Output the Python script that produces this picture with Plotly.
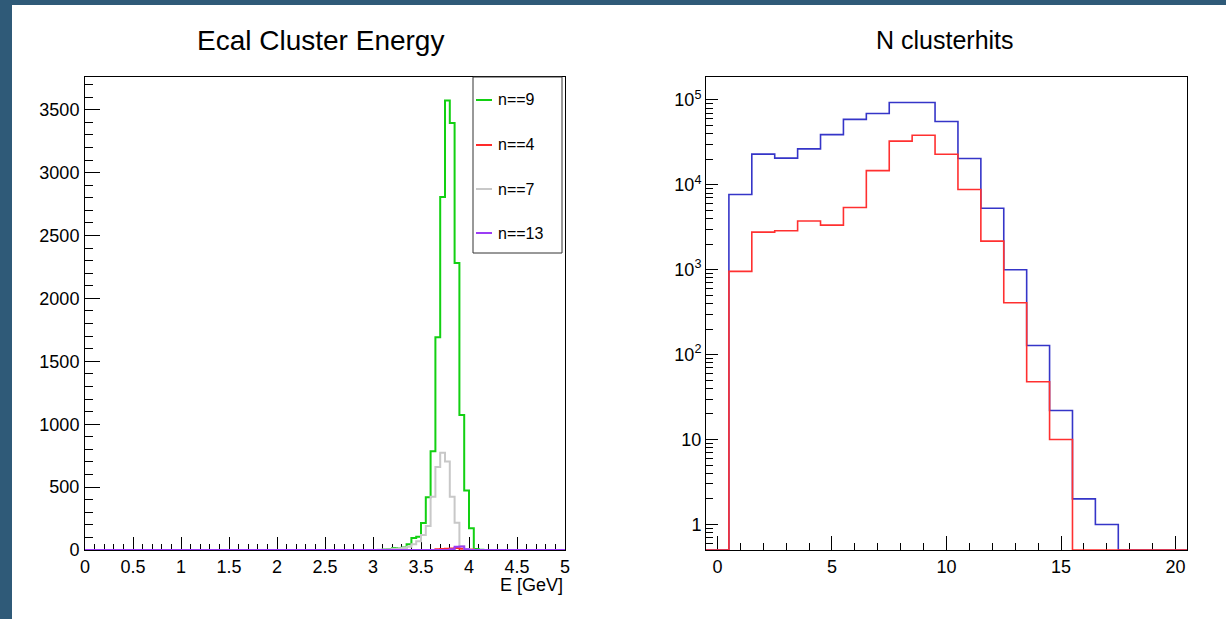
import plotly.graph_objects as go
import math

W, H = 1226, 619

# ---------------- Left panel: Ecal Cluster Energy (100 bins, 0..5 GeV) ----------------
e_nbins = 100
e_min, e_max = 0.0, 5.0

# non-zero bin contents, starting at the given bin lower edge
green_start = 3.10  # n==9
green_vals = [3, 8, 15, 12, 20, 45, 95, 106, 215, 420, 785, 1692, 2806, 3574, 3395,
              2281, 1074, 472, 172, 8, 2]
red_start = 3.65    # n==4
red_vals = [5, 8, 10, 12, 15, 10, 8, 4]
gray_start = 3.05   # n==7
gray_vals = [2, 4, 6, 10, 12, 16, 25, 45, 70, 119, 191, 424, 660, 774, 703, 424, 217,
             30, 8, 2]
purple_start = 3.80  # n==13
purple_vals = [5, 25, 28, 6]

left_series = [
    ("n==9", green_start, green_vals, "#12d012"),
    ("n==4", red_start, red_vals, "#ff2a2a"),
    ("n==7", gray_start, gray_vals, "#c8c8c8"),
    ("n==13", purple_start, purple_vals, "#9b3cf5"),
]

e_xtick_vals = [0, 0.5, 1, 1.5, 2, 2.5, 3, 3.5, 4, 4.5, 5]
e_xtick_text = ["0", "0.5", "1", "1.5", "2", "2.5", "3", "3.5", "4", "4.5", "5"]

# ---------------- Right panel: N clusterhits (21 bins, -0.5..20.5) ----------------
n_bins = 21
n_min, n_max = -0.5, 20.5
blue_vals = [0, 7700, 23000, 20600, 26500, 39000, 59000, 69000, 93000, 93000, 55600,
             20400, 5300, 1000, 128, 22, 2, 1, 0, 0, 0]
red2_vals = [0, 955, 2770, 2880, 3740, 3350, 5400, 14700, 32700, 38400, 22900, 8800,
             2170, 408, 48, 10, 0, 0, 0, 0, 0]
n_xtick_vals = [0, 5, 10, 15, 20]
n_ytick_vals = [1, 10, 100, 1000, 10000, 100000]
n_ytick_text = ["1", "10", "10<sup>2</sup>", "10<sup>3</sup>", "10<sup>4</sup>", "10<sup>5</sup>"]
log_ymin, log_ymax = 0.5, 1.86e5


def full_bins(start, vals, nb, lo, hi):
    width = (hi - lo) / nb
    out = [0.0] * nb
    i0 = int(round((start - lo) / width))
    for k, v in enumerate(vals):
        out[i0 + k] = v
    return out


def step_xy(vals, nb, lo, hi, floor=None):
    width = (hi - lo) / nb
    edges = [lo + i * width for i in range(nb + 1)]
    ys = [(floor if (floor is not None and v <= 0) else v) for v in vals]
    return edges, ys + [ys[-1]]


fig = go.Figure()

for name, start, vals, color in left_series:
    full = full_bins(start, vals, e_nbins, e_min, e_max)
    xs, ys = step_xy(full, e_nbins, e_min, e_max)
    fig.add_trace(go.Scatter(x=xs, y=ys, mode="lines", line=dict(shape="hv", color=color, width=2),
                             name=name, showlegend=False, xaxis="x", yaxis="y",
                             cliponaxis=False))

for name, vals, color in [("all", blue_vals, "#3535c8"), ("sel", red2_vals, "#ff3030")]:
    xs, ys = step_xy(vals, n_bins, n_min, n_max, floor=log_ymin)
    fig.add_trace(go.Scatter(x=xs, y=ys, mode="lines", line=dict(shape="hv", color=color, width=1.6),
                             name=name, showlegend=False, xaxis="x2", yaxis="y2",
                             cliponaxis=False))

font_family = "Liberation Sans, Arial, sans-serif"
tickfont = dict(family=font_family, size=18, color="black")

ydom = [1 - 550 / H, 1 - 77 / H]

common = dict(showline=True, linecolor="black", linewidth=1, mirror=True, showgrid=False,
              zeroline=False, ticks="inside", tickcolor="black", tickwidth=1,
              tickfont=tickfont, automargin=False, layer="below traces")

minor_log = [k * 10 ** d for d in range(-1, 6) for k in range(2, 10)
             if log_ymin < k * 10 ** d < log_ymax]

# legend drawn as a boxed key inside the left frame
leg_x0, leg_x1, leg_y0, leg_y1 = 473, 562, 77, 253
leg_rows = [100, 145, 189, 233]
shapes = [
    dict(type="rect", xref="paper", yref="paper", x0=12 / W, x1=1, y0=0, y1=1 - 5 / H,
         fillcolor="white", line=dict(width=0), layer="below"),
    dict(type="rect", xref="paper", yref="paper", x0=leg_x0 / W, x1=leg_x1 / W,
         y0=1 - leg_y1 / H, y1=1 - leg_y0 / H, fillcolor="white",
         line=dict(color="#333333", width=1), layer="above"),
]
annotations = [
    dict(text="Ecal Cluster Energy", xref="paper", yref="paper", x=320 / W, y=1 - 40 / H,
         xanchor="center", yanchor="middle", showarrow=False,
         font=dict(family=font_family, size=28, color="black")),
    dict(text="N clusterhits", xref="paper", yref="paper", x=945 / W, y=1 - 40 / H,
         xanchor="center", yanchor="middle", showarrow=False,
         font=dict(family=font_family, size=25, color="black")),
    dict(text="E [GeV]", xref="paper", yref="paper", x=565 / W, y=1 - 585 / H,
         xanchor="right", yanchor="middle", showarrow=False,
         font=dict(family=font_family, size=18, color="black")),
]
for (name, _s, _v, color), yrow in zip(left_series, leg_rows):
    shapes.append(dict(type="line", xref="paper", yref="paper", x0=476 / W, x1=492 / W,
                       y0=1 - yrow / H, y1=1 - yrow / H, line=dict(color=color, width=2),
                       layer="above"))
    annotations.append(dict(text=name, xref="paper", yref="paper", x=496 / W, y=1 - yrow / H,
                            xanchor="left", yanchor="middle", showarrow=False,
                            font=dict(family=font_family, size=16, color="black")))

fig.update_layout(
    width=W, height=H,
    margin=dict(l=0, r=0, t=0, b=0),
    paper_bgcolor="#2f5a78",
    plot_bgcolor="white",
    showlegend=False,
    xaxis=dict(domain=[85 / W, 565 / W], range=[e_min, e_max], anchor="y",
               tickvals=e_xtick_vals, ticktext=e_xtick_text, ticklen=13,
               minor=dict(dtick=0.1, tick0=0, ticks="inside", ticklen=6, tickcolor="black", showgrid=False),
               ticklabelstandoff=0, **common),
    yaxis=dict(domain=ydom, range=[0, 3760], anchor="x", dtick=500, tick0=0, ticklen=15,
               minor=dict(dtick=100, tick0=0, ticks="inside", ticklen=8, tickcolor="black", showgrid=False),
               ticklabelstandoff=1, **common),
    xaxis2=dict(domain=[706 / W, 1187 / W], range=[n_min, n_max], anchor="y2",
                tickvals=n_xtick_vals, ticklen=14,
                minor=dict(dtick=1, tick0=0, ticks="inside", ticklen=7, tickcolor="black", showgrid=False),
                ticklabelstandoff=0, **common),
    yaxis2=dict(domain=ydom, type="log", range=[math.log10(log_ymin), math.log10(log_ymax)],
                anchor="x2", tickvals=n_ytick_vals, ticktext=n_ytick_text, ticklen=12,
                minor=dict(tickvals=minor_log, ticks="inside", ticklen=7, tickcolor="black", showgrid=False),
                ticklabelstandoff=0, **common),
    shapes=shapes,
    annotations=annotations,
)

fig.write_html("out.html")
